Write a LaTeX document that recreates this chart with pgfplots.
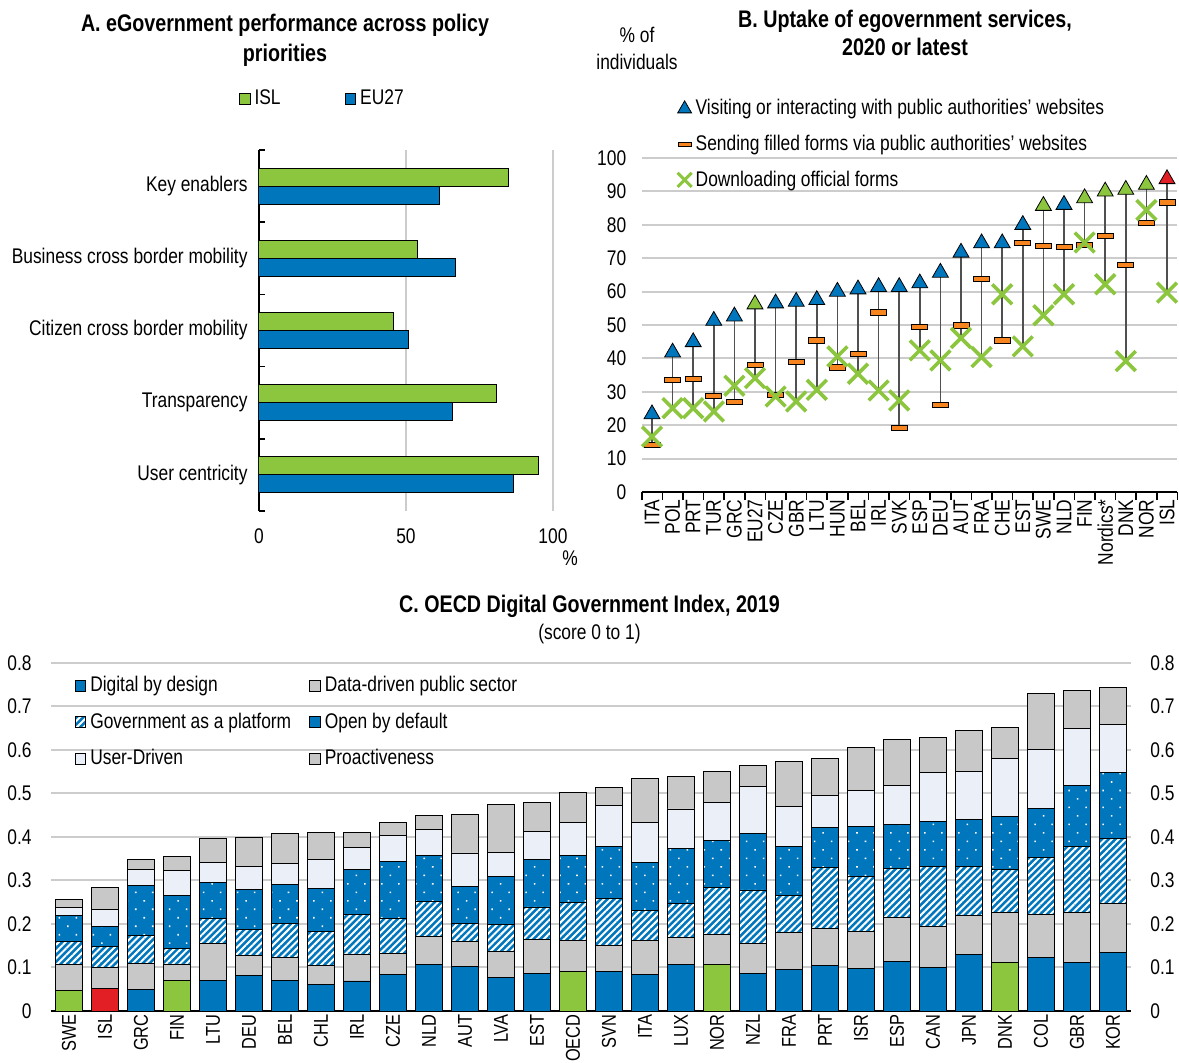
\documentclass[border=0pt]{standalone}
\usepackage{fontspec}
\setmainfont{Liberation Sans}[FakeStretch=0.82]
\usepackage{pgfplots}
\pgfplotsset{compat=1.18}
\usepackage{pgfplotstable}
\usetikzlibrary{patterns.meta}

\definecolor{cblue}{RGB}{0,118,189}
\definecolor{cgreen}{RGB}{140,198,63}
\definecolor{cred}{RGB}{227,31,38}
\definecolor{cgray}{RGB}{200,200,200}
\definecolor{cuser}{RGB}{235,239,248}
\definecolor{corange}{RGB}{246,133,31}
\definecolor{cgrid}{RGB}{204,204,204}
\definecolor{cline}{RGB}{80,80,80}

% panel B: visiting, sending, downloading (% of individuals)
\pgfplotstableread{
x name v s d cls
0 ITA 23.3 14.1 16.6 b
1 POL 41.8 33.6 25.1 b
2 PRT 44.9 33.9 25.1 b
3 TUR 51.3 28.7 24.1 b
4 GRC 52.6 26.9 31.8 b
5 EU27 56.2 38.1 34.1 g
6 CZE 56.5 29.1 28.6 b
7 GBR 57.0 38.9 27.1 b
8 LTU 57.5 45.4 30.6 b
9 HUN 60.0 37.3 40.6 b
10 BEL 60.7 41.4 35.4 b
11 IRL 61.4 53.8 30.4 b
12 SVK 61.4 19.3 27.4 b
13 ESP 62.5 49.4 42.4 b
14 DEU 65.7 26.1 39.4 b
15 AUT 71.7 49.9 46.1 b
16 FRA 74.5 63.9 40.4 b
17 CHE 74.5 45.4 59.2 b
18 EST 80.0 74.7 43.6 b
19 SWE 85.7 73.7 52.9 g
20 NLD 86.0 73.5 59.2 b
21 FIN 88.0 74.1 74.7 g
22 Nordics* 90.0 76.6 62.2 g
23 DNK 90.5 67.9 39.2 g
24 NOR 92.0 80.6 84.4 g
25 ISL 93.7 86.7 59.7 r
}\tabB

% panel C: digital government index components
\pgfplotstableread{
name dbd dd gap obd ud pro hl
SWE 0.047 0.060 0.052 0.061 0.018 0.019 1
ISL 0.051 0.049 0.048 0.046 0.040 0.049 2
GRC 0.050 0.059 0.064 0.116 0.036 0.022 0
FIN 0.070 0.038 0.035 0.123 0.056 0.033 1
LTU 0.070 0.085 0.057 0.084 0.046 0.055 0
DEU 0.082 0.045 0.061 0.091 0.052 0.067 0
BEL 0.070 0.052 0.078 0.090 0.049 0.068 0
CHL 0.062 0.043 0.077 0.099 0.068 0.061 0
IRL 0.069 0.062 0.090 0.105 0.049 0.035 0
CZE 0.083 0.050 0.079 0.132 0.059 0.031 0
NLD 0.106 0.066 0.080 0.106 0.060 0.031 0
AUT 0.103 0.057 0.040 0.086 0.077 0.089 0
LVA 0.077 0.060 0.061 0.112 0.054 0.110 0
EST 0.087 0.078 0.074 0.109 0.065 0.066 0
OECD 0.090 0.072 0.088 0.108 0.076 0.068 1
SVN 0.090 0.061 0.107 0.119 0.095 0.042 0
ITA 0.083 0.079 0.068 0.111 0.093 0.100 0
LUX 0.106 0.062 0.078 0.128 0.090 0.074 0
NOR 0.107 0.069 0.107 0.109 0.087 0.071 1
NZL 0.087 0.069 0.122 0.130 0.107 0.050 0
FRA 0.096 0.085 0.084 0.112 0.093 0.104 0
PRT 0.105 0.084 0.141 0.092 0.073 0.085 0
ISR 0.098 0.084 0.127 0.114 0.084 0.098 0
ESP 0.114 0.100 0.114 0.100 0.090 0.105 0
CAN 0.100 0.095 0.137 0.104 0.111 0.082 0
JPN 0.129 0.091 0.112 0.108 0.111 0.094 0
DNK 0.112 0.115 0.097 0.123 0.133 0.072 1
COL 0.123 0.099 0.131 0.113 0.134 0.130 0
GBR 0.112 0.115 0.150 0.142 0.131 0.086 0
KOR 0.134 0.113 0.150 0.150 0.112 0.084 0
}\tabC

\pgfdeclareplotmark{dashbox}{%
  \pgfpathrectangle{\pgfqpoint{-4pt}{-1.3pt}}{\pgfqpoint{8pt}{2.6pt}}%
  \pgfusepathqfillstroke}

\pgfplotsset{
  /pgf/number format/assume math mode=true,
  sqlegend/.style={legend image code/.code={
      \draw[##1, line width=0.4pt] (0pt,-2.7pt) rectangle (5.4pt,2.7pt);}},
  barC/.style={draw=black, line width=0.45pt},
}

\begin{document}
\fontsize{10.6pt}{12.7pt}\selectfont
\begin{tikzpicture}
\useasboundingbox (0,0) rectangle (589.5pt,531pt);

% ---------- A ----------
\node[font=\fontsize{12pt}{15pt}\selectfont\bfseries, align=center] at (142.5pt,511pt)
  {A. eGovernment performance across policy\\priorities};
\begin{axis}[
  at={(129.5pt,275.5pt)}, anchor=south west,
  scale only axis, width=147pt, height=180.5pt,
  xbar, bar width=9pt,
  xmin=0, xmax=100, ymin=-0.5, ymax=4.5,
  xtick={0,50,100},
  ytick={0,1,2,3,4},
  yticklabels={User centricity,Transparency,Citizen cross border mobility,Business cross border mobility,Key enablers},
  minor ytick={-0.5,0.5,...,4.5},
  separate axis lines, axis lines*=left,
  x axis line style={draw=none}, y axis line style={line width=0.8pt},
  xmajorgrids, grid style={cgrid, line width=0.8pt},
  tick align=inside, major tick length=0pt, minor tick length=3pt,
  minor tick style={black, line width=0.8pt},
  xticklabel style={yshift=-5pt},
  yticklabel style={xshift=-2pt},
  sqlegend,
  legend columns=2,
  legend style={at={(-0.09,1.19)}, anchor=north west, draw=none, fill=none,
    /tikz/every even column/.append style={column sep=30pt}},
]
\addplot[fill=cgreen, draw=black, line width=0.5pt, bar shift=4.5pt]
  coordinates {(85.0,4) (53.9,3) (45.9,2) (80.9,1) (94.9,0)};
\addlegendentry{ISL}
\addplot[fill=cblue, draw=black, line width=0.5pt, bar shift=-4.5pt]
  coordinates {(61.4,4) (67.0,3) (50.8,2) (65.7,1) (86.4,0)};
\addlegendentry{EU27}
\end{axis}
\node at (285pt,252pt) {\%};

% ---------- B ----------
\node[font=\fontsize{12pt}{14pt}\selectfont\bfseries, align=center] at (452.5pt,514.5pt)
  {B. Uptake of egovernment services,\\2020 or latest};
\node[align=center, font=\fontsize{10.6pt}{13.5pt}\selectfont] at (318.5pt,507pt) {\% of\\individuals};
\begin{axis}[
  at={(320.85pt,285pt)}, anchor=south west,
  scale only axis, width=267.8pt, height=167pt,
  xmin=-0.5, xmax=25.5, ymin=0, ymax=100,
  ytick={0,10,...,100},
  xtick={0,...,25},
  xticklabels={ITA,POL,PRT,TUR,GRC,EU27,CZE,GBR,LTU,HUN,BEL,IRL,SVK,ESP,DEU,AUT,FRA,CHE,EST,SWE,NLD,FIN,Nordics*,DNK,NOR,ISL},
  xticklabel style={rotate=90, anchor=east},
  minor xtick={-0.5,0.5,...,25.5},
  separate axis lines, axis lines*=left,
  y axis line style={draw=none}, x axis line style={line width=1pt},
  ymajorgrids, grid style={cgrid, line width=1pt},
  tick align=outside, major tick length=0pt, minor tick length=4pt,
  minor tick style={black, line width=0.8pt},
  yticklabel style={xshift=-4pt},
  legend cell align=left,
  legend style={at={(0.055,1.2)}, anchor=north west, draw=none, fill=none,
    row sep=4.5pt},
]
\addlegendimage{only marks, mark=triangle*, mark size=4pt, mark options={fill=cblue, draw=black, line width=0.4pt}}
\addlegendentry{Visiting or interacting with public authorities' websites}
\addlegendimage{only marks, mark=dashbox, mark options={fill=corange, draw=black, line width=0.4pt, scale=0.8}}
\addlegendentry{Sending filled forms via public authorities' websites}
\addlegendimage{only marks, mark=x, mark size=5pt, mark options={draw=cgreen, line width=1.5pt}}
\addlegendentry{Downloading official forms}

\addplot[draw=none, mark=none, forget plot,
  error bars/.cd, y dir=plus, y explicit, error mark=none,
  error bar style={line width=0.8pt, cline}]
  table[x=x,
    y expr={min(\thisrow{v},\thisrow{s},\thisrow{d})},
    y error plus expr={max(\thisrow{v},\thisrow{s},\thisrow{d})-min(\thisrow{v},\thisrow{s},\thisrow{d})}] {\tabB};
\addplot[forget plot, only marks, mark=dashbox, mark options={fill=corange, draw=black, line width=0.4pt}]
  table[x=x, y=s] {\tabB};
\addplot[forget plot, only marks, mark=x, mark size=7pt, mark options={draw=cgreen, line width=1.8pt}]
  table[x=x, y=d] {\tabB};
\addplot[forget plot, scatter, only marks, mark=triangle*, mark size=4.6pt,
  scatter src=explicit symbolic,
  scatter/classes={
    b={mark=triangle*, fill=cblue, draw=black, line width=0.4pt},
    g={mark=triangle*, fill=cgreen, draw=black, line width=0.4pt},
    r={mark=triangle*, fill=cred, draw=black, line width=0.4pt}}]
  table[x=x, y=v, meta=cls] {\tabB};
\end{axis}

% ---------- C ----------
\node[font=\fontsize{12pt}{14pt}\selectfont\bfseries] at (294.75pt,228pt)
  {C. OECD Digital Government Index, 2019};
\node at (294.75pt,214pt) {(score 0 to 1)};
\begin{axis}[
  at={(25.5pt,25.5pt)}, anchor=south west,
  scale only axis, width=540pt, height=174.15pt,
  ybar stacked, bar width=13.85pt,
  xmin=-0.5, xmax=29.5, ymin=0, ymax=0.8,
  ytick={0,0.1,0.2,0.3,0.4,0.5,0.6,0.7,0.8},
  xtick={0,...,29},
  xticklabels={SWE,ISL,GRC,FIN,LTU,DEU,BEL,CHL,IRL,CZE,NLD,AUT,LVA,EST,OECD,SVN,ITA,LUX,NOR,NZL,FRA,PRT,ISR,ESP,CAN,JPN,DNK,COL,GBR,KOR},
  xticklabel style={rotate=90, anchor=east, inner sep=1.5pt,
    font=\fontsize{10pt}{12pt}\selectfont},
  separate axis lines, axis lines*=left,
  y axis line style={draw=none}, x axis line style={line width=1pt},
  ymajorgrids, grid style={cgrid, line width=1pt},
  major tick length=0pt,
  yticklabel style={xshift=-6pt},
  sqlegend,
  legend columns=2, legend cell align=left,
  legend style={at={(0.016,0.985)}, anchor=north west, draw=none, fill=none,
    row sep=5pt,
    /tikz/every even column/.append style={column sep=7pt}},
]
\addplot[barC, fill=cblue] table[x expr=\coordindex, y expr={\thisrow{hl}==0 ? \thisrow{dbd} : 0}] {\tabC};
\addlegendentry{Digital by design}
\addplot[barC, fill=cgreen, forget plot] table[x expr=\coordindex, y expr={\thisrow{hl}==1 ? \thisrow{dbd} : 0}] {\tabC};
\addplot[barC, fill=cred, forget plot] table[x expr=\coordindex, y expr={\thisrow{hl}==2 ? \thisrow{dbd} : 0}] {\tabC};
\addplot[barC, fill=cgray] table[x expr=\coordindex, y=dd] {\tabC};
\addlegendentry{Data-driven public sector}
\addplot[barC, fill=cblue, postaction={pattern={Lines[angle=45, distance=2.4pt, line width=1pt]}, pattern color=white}]
  table[x expr=\coordindex, y=gap] {\tabC};
\addlegendentry{Government as a platform}
\addplot[barC, fill=cblue, postaction={pattern={Dots[angle=45, distance=6pt, radius=0.55pt]}, pattern color=white}]
  table[x expr=\coordindex, y=obd] {\tabC};
\addlegendentry{Open by default}
\addplot[barC, fill=cuser] table[x expr=\coordindex, y=ud] {\tabC};
\addlegendentry{User-Driven}
\addplot[barC, fill=cgray] table[x expr=\coordindex, y=pro] {\tabC};
\addlegendentry{Proactiveness}
\end{axis}
\begin{axis}[
  at={(25.5pt,25.5pt)}, anchor=south west,
  scale only axis, width=540pt, height=174.15pt,
  xmin=-0.5, xmax=29.5, ymin=0, ymax=0.8,
  ytick={0,0.1,0.2,0.3,0.4,0.5,0.6,0.7,0.8},
  hide x axis, axis y line*=right, y axis line style={draw=none},
  major tick length=0pt,
  yticklabel style={xshift=6pt},
]
\addplot[draw=none] coordinates {(0,0)};
\end{axis}
\end{tikzpicture}
\end{document}
